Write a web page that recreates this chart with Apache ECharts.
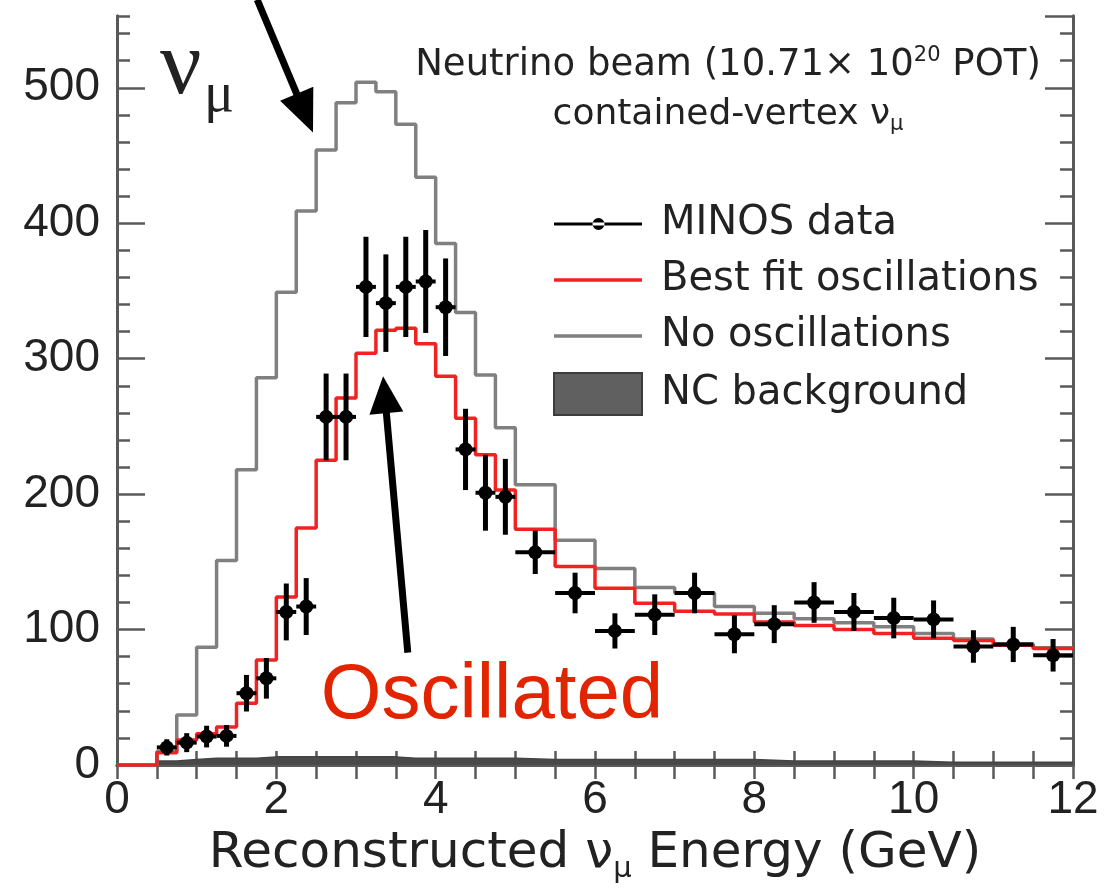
<!DOCTYPE html>
<html lang="en">
<head>
<meta charset="UTF-8">
<title>MINOS contained-vertex numu spectrum</title>
<script src="https://cdn.jsdelivr.net/npm/echarts@6/dist/echarts.min.js"></script>
<style>html,body{margin:0;padding:0;background:#fff;}</style>
</head>
<body>
<div id="main" style="width:1104px;height:893px"></div>
<script>
// bin edges (GeV): 0.25 GeV bins up to 5 GeV, 0.5 GeV bins above
var binEdges = [0, 0.25, 0.5, 0.75, 1, 1.25, 1.5, 1.75, 2, 2.25, 2.5, 2.75, 3, 3.25, 3.5, 3.75,
                4, 4.25, 4.5, 4.75, 5, 5.5, 6, 6.5, 7, 7.5, 8, 8.5, 9, 9.5, 10, 10.5, 11, 11.5, 12];
// events / GeV per bin
var noOsc   = [0, 0, 10, 37, 87, 151, 218, 286, 349, 409, 454, 489, 504, 497, 473, 434, 385, 334,
               288, 249, 207, 166, 145, 131, 127, 117, 112, 108, 105, 102, 97, 93, 89.5, 86.5];
var bestFit = [0, 0, 9, 18.5, 23, 28, 45.5, 77.5, 124, 175, 225, 271, 304, 321, 322.5, 311, 287, 256,
               229, 203, 174, 146.5, 130.5, 119.5, 113.5, 111.5, 105.5, 103, 100, 97, 93.5, 92, 88.5, 86];
var ncBg    = [0, 0, 3, 4, 5, 5, 5, 6, 6, 6, 6, 6, 6, 6, 5, 5, 5, 5,
               5, 5, 4, 4, 4, 4, 4, 4, 3, 3, 3, 3, 2, 2, 2, 2];
// MINOS data, starting at bin 2 (0.5-0.75 GeV)
var dataFirstBin = 2;
var dataVal = [13, 16.5, 21, 21.5, 53, 64, 113, 117, 257, 257, 353, 341, 353, 357, 338, 233, 201, 198,
               157, 127, 99, 111, 127, 96.5, 104, 120, 113, 108.5, 107.5, 87.5, 89, 81];
var dataErr = [6, 7, 8, 8, 13.5, 15, 21, 21, 32, 32, 37, 36, 37, 38, 36, 30, 28, 28,
               16, 15, 13, 15, 15, 14, 14, 15, 14, 15, 14, 12, 13, 12];

var RED = '#f22222', GREY = '#808080', FRAME = '#5a5a5a', INK = '#222';
var SANS = 'Liberation Sans, Arial, sans-serif';
var WIDE = 'DejaVu Sans, sans-serif';

function stepPoints(vals) {
  var pts = [];
  for (var i = 0; i < vals.length; i++) {
    pts.push([binEdges[i], vals[i]], [binEdges[i + 1], vals[i]]);
  }
  return pts;
}

var points = dataVal.map(function (v, k) {
  var i = k + dataFirstBin;
  var lo = binEdges[i], hi = binEdges[i + 1];
  return [(lo + hi) / 2, v, dataErr[k], (hi - lo) / 2];
});

var chart = echarts.init(document.getElementById('main'));

var xTickAxis = function (pos, showLabel) {
  return {
    type: 'value', position: pos, min: 0, max: 12, interval: 0.5,
    axisLine: {show: true, lineStyle: {color: FRAME, width: 3}},
    axisTick: {show: true, inside: true, length: 14, lineStyle: {color: FRAME, width: 2.5}},
    splitLine: {show: false},
    axisLabel: {
      show: showLabel, margin: 12, color: INK, fontFamily: SANS, fontSize: 46,
      formatter: function (v) { return v % 2 === 0 ? String(v) : ''; }
    }
  };
};
var yAxisPair = function (pos, interval, len, showLabel) {
  return {
    type: 'value', position: pos, min: 0, max: 553, interval: interval,
    axisLine: {show: true, lineStyle: {color: FRAME, width: 3}},
    axisTick: {show: true, inside: true, length: len, lineStyle: {color: FRAME, width: 2.5}},
    splitLine: {show: false},
    axisLabel: {
      show: showLabel, margin: 17, color: INK, fontFamily: SANS, fontSize: 46, showMaxLabel: false,
      formatter: function (v) { return v % 100 === 0 ? String(v) : ''; }
    }
  };
};

var bottomAxis = xTickAxis('bottom', true);
bottomAxis.name = '{t|Reconstructed }{nu|ν}{sub|μ}{t| Energy (GeV)}';
bottomAxis.nameLocation = 'middle';
bottomAxis.nameGap = 59;
bottomAxis.nameMoveOverlap = false;
bottomAxis.nameTextStyle = {
  rich: {
    t: {fontFamily: WIDE, fontSize: 50, color: INK, lineHeight: 60, verticalAlign: 'middle'},
    nu: {fontFamily: WIDE, fontSize: 50, color: INK, lineHeight: 60, verticalAlign: 'middle'},
    sub: {fontFamily: WIDE, fontSize: 29, color: INK, lineHeight: 10, verticalAlign: 'bottom'}
  }
};

var option = {
  backgroundColor: '#fff',
  animation: false,
  grid: {left: 117, right: 31, top: 16, bottom: 128, containLabel: false, outerBoundsMode: 'none'},
  xAxis: [bottomAxis, xTickAxis('top', false)],
  yAxis: [
    yAxisPair('left', 20, 13, false),
    yAxisPair('left', 100, 28, true),
    yAxisPair('right', 20, 13, false),
    yAxisPair('right', 100, 28, false)
  ],
  legend: {
    orient: 'vertical', left: 553, top: 204, padding: 0,
    itemWidth: 88, itemHeight: 42, itemGap: 16, selectedMode: false,
    textStyle: {fontFamily: WIDE, fontSize: 40, color: INK, padding: [0, 0, 0, 14]},
    data: [
      {name: 'MINOS data', icon: 'path://M0,5h88v3h-88z M38.5,6.5a6,6 0 1,0 12,0a6,6 0 1,0 -12,0z',
       itemStyle: {color: '#000', borderWidth: 0}},
      {name: 'Best fit oscillations', icon: 'path://M0,0h88v3.5h-88z', itemStyle: {color: RED, borderWidth: 0}},
      {name: 'No oscillations', icon: 'path://M0,0h88v3.5h-88z', itemStyle: {color: GREY, borderWidth: 0}},
      {name: 'NC background', icon: 'path://M0,0h88v42h-88z',
       itemStyle: {color: '#606060', borderColor: '#3c3c3c', borderWidth: 2}}
    ]
  },
  series: [
    {
      name: 'NC background', type: 'line', data: stepPoints(ncBg), showSymbol: false, symbol: 'none',
      lineStyle: {color: '#444', width: 1.5}, itemStyle: {color: '#606060'},
      areaStyle: {color: '#4a4a4a', opacity: 1}, z: 2
    },
    {
      name: 'No oscillations', type: 'line', data: stepPoints(noOsc), showSymbol: false, symbol: 'none',
      lineStyle: {color: GREY, width: 3.5}, itemStyle: {color: GREY}, z: 3
    },
    {
      name: 'Best fit oscillations', type: 'line', data: stepPoints(bestFit), showSymbol: false, symbol: 'none',
      lineStyle: {color: RED, width: 3.5}, itemStyle: {color: RED}, z: 4
    },
    {
      name: 'MINOS data', type: 'custom', data: points, encode: {x: 0, y: 1},
      itemStyle: {color: '#000'}, z: 5,
      renderItem: function (params, api) {
        var x = api.value(0), y = api.value(1), e = api.value(2), hw = api.value(3);
        var c = api.coord([x, y]), t = api.coord([x, y + e]), b = api.coord([x, y - e]);
        var l = api.coord([x - hw, y]), r = api.coord([x + hw, y]);
        return {
          type: 'group',
          children: [
            {type: 'line', shape: {x1: t[0], y1: t[1], x2: b[0], y2: b[1]}, style: {stroke: '#000', lineWidth: 5}},
            {type: 'line', shape: {x1: l[0], y1: l[1], x2: r[0], y2: r[1]}, style: {stroke: '#000', lineWidth: 4}},
            {type: 'circle', shape: {cx: c[0], cy: c[1], r: 7}, style: {fill: '#000'}}
          ]
        };
      }
    }
  ],
  graphic: [
    {type: 'text', x: 160, y: 69, z: 10,
     style: {text: 'ν', font: '92px "Liberation Serif", serif', fill: INK, align: 'left', verticalAlign: 'middle'}},
    {type: 'text', x: 204, y: 96, z: 10,
     style: {text: 'μ', font: '56px "Liberation Serif", serif', fill: INK, align: 'left', verticalAlign: 'middle'}},
    {type: 'text', x: 728, y: 65, z: 10,
     style: {
       text: '{t|Neutrino beam (10.71× 10}{sup|20}{t| POT)}', align: 'center', verticalAlign: 'middle',
       rich: {
         t: {fontFamily: WIDE, fontSize: 37, fill: INK, lineHeight: 40, verticalAlign: 'middle'},
         sup: {fontFamily: WIDE, fontSize: 21, fill: INK, lineHeight: 20, verticalAlign: 'top'}
       }
     }},
    {type: 'text', x: 728, y: 115, z: 10,
     style: {
       text: '{t|contained-vertex ν}{sub|μ}', align: 'center', verticalAlign: 'middle',
       rich: {
         t: {fontFamily: WIDE, fontSize: 36, fill: INK, lineHeight: 40, verticalAlign: 'middle'},
         sub: {fontFamily: WIDE, fontSize: 21, fill: INK, lineHeight: 12, verticalAlign: 'bottom'}
       }
     }},
    {type: 'text', x: 492, y: 696, z: 10,
     style: {text: 'Oscillated', font: '78px "Liberation Sans", Arial, sans-serif', fill: '#e32400',
             align: 'center', verticalAlign: 'middle'}}
  ]
};

chart.setOption(option);

// annotation arrows, ends given in data units (GeV, events/GeV)
var arrowNoOsc = {from: [1.76, 565], to: [2.46, 467], head: 42, half: 18};
var arrowOsc = {from: [3.65, 83], to: [3.34, 287], head: 37, half: 17};

function arrow(a) {
  var p0 = chart.convertToPixel({seriesIndex: 1}, a.from);
  var p1 = chart.convertToPixel({seriesIndex: 1}, a.to);
  var dx = p1[0] - p0[0], dy = p1[1] - p0[1];
  var len = Math.sqrt(dx * dx + dy * dy);
  var ux = dx / len, uy = dy / len;
  var bx = p1[0] - ux * a.head, by = p1[1] - uy * a.head;
  return [
    {type: 'line', z: 11, shape: {x1: p0[0], y1: p0[1], x2: bx + ux * 3, y2: by + uy * 3},
     style: {stroke: '#000', lineWidth: 7}},
    {type: 'polygon', z: 11,
     shape: {points: [[p1[0], p1[1]], [bx - uy * a.half, by + ux * a.half], [bx + uy * a.half, by - ux * a.half]]},
     style: {fill: '#000'}}
  ];
}

chart.setOption({graphic: option.graphic.concat(arrow(arrowNoOsc), arrow(arrowOsc))});
</script>
</body>
</html>
